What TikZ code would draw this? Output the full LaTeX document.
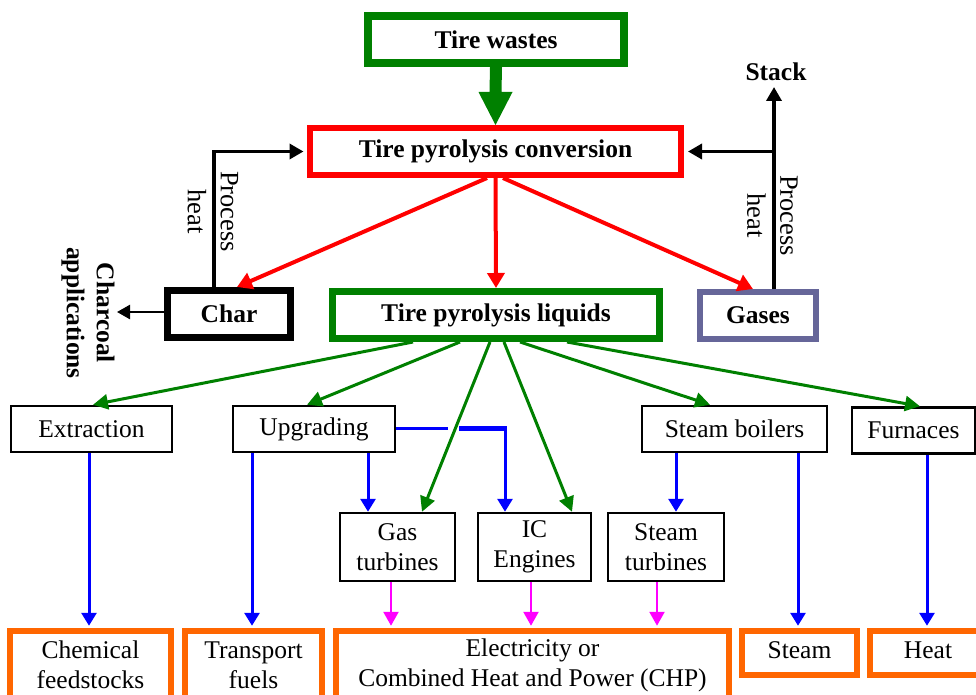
\documentclass[tikz,border=0pt]{standalone}
\usepackage{fontspec}
\setmainfont{Liberation Serif}
\usetikzlibrary{arrows.meta,calc}
\definecolor{tgreen}{RGB}{0,128,0}
\definecolor{tred}{RGB}{255,0,0}
\definecolor{tblue}{RGB}{0,0,255}
\definecolor{tmag}{RGB}{255,0,255}
\definecolor{torange}{RGB}{255,102,0}
\definecolor{tslate}{RGB}{102,102,153}
\newcommand\myfs{\fontsize{25.5}{30}\selectfont}
\newcommand\mylblfs{\fontsize{26.5}{33}\selectfont}
\begin{document}
\begin{tikzpicture}[x=1pt,y=-1pt,
  tbox/.style={draw, inner sep=0pt, minimum height=47pt, font=\myfs\bfseries, align=center},
  sbox/.style={draw=black, line width=2.5pt, inner sep=0pt, minimum height=46pt, font=\myfs, align=center},
  obox/.style={draw=torange, line width=5.5pt, inner sep=0pt, font=\myfs, align=center},
  lbl/.style={font=\mylblfs, align=center},
  rarr/.style={draw=tred, line width=4pt, -{Triangle[length=15pt,width=17pt]}},
  garr/.style={draw=tgreen, line width=3pt, -{Triangle[length=15pt,width=15pt]}},
  barr/.style={draw=tblue, line width=3pt, -{Triangle[length=13pt,width=15pt]}},
  marr/.style={draw=tmag, line width=2.5pt, -{Triangle[length=14pt,width=15pt]}},
  karr/.style={draw=black, line width=3.5pt, -{Triangle[length=14pt,width=15pt]}},
  kthin/.style={draw=black, line width=2.5pt, -{Triangle[length=13pt,width=14pt]}}
]
\useasboundingbox (0,0) rectangle (976,695);

% main boxes
\node[tbox, draw=tgreen, line width=8pt, minimum width=256pt] (waste) at (496,39.5) {Tire wastes};
\node[tbox, draw=tred, line width=6pt, minimum width=371pt] (conv) at (495.5,151.5) {Tire pyrolysis conversion};
\node[tbox, draw=black, line width=7pt, minimum width=123pt] (char) at (229,314) {Char};
\node[tbox, draw=tgreen, line width=7pt, minimum width=327pt] (liq) at (496,315) {Tire pyrolysis liquids};
\node[tbox, draw=tslate, line width=6pt, minimum width=116pt] (gas) at (758,315.5) {Gases};

% second level boxes
\node[sbox, minimum width=161pt] (extr) at (91.5,429) {Extraction};
\node[sbox, minimum width=162pt] (upg) at (314,429) {Upgrading};
\node[sbox, minimum width=185pt] (sb) at (734.5,429) {Steam boilers};
\node[sbox, minimum width=123pt] (furn) at (913.5,430.5) {Furnaces};
\node[sbox, minimum width=115pt, minimum height=68pt] (gt) at (397.5,547) {Gas\\turbines};
\node[sbox, minimum width=113pt, minimum height=68pt] (ic) at (534.5,547) {IC\\Engines};
\node[sbox, minimum width=116pt, minimum height=68pt] (st) at (666,547) {Steam\\turbines};

% products
\node[obox, minimum width=161pt, minimum height=68pt] (chem) at (90.5,665) {Chemical\\feedstocks};
\node[obox, minimum width=137pt, minimum height=68pt] (trans) at (253.5,665) {Transport\\fuels};
\node[obox, minimum width=393pt, minimum height=68pt] (elec) at (532.5,665) {Electricity or\\Combined Heat and Power (CHP)};
\node[obox, minimum width=115pt, minimum height=44pt, text height=17pt, text depth=6pt] (steam) at (799.5,653) {Steam};
\node[obox, minimum width=116pt, minimum height=44pt, text height=17pt, text depth=6pt] (heat) at (928,653) {Heat};

% labels
\node[lbl, rotate=-90] (phl) at (213,211.5) {Process\\heat};
\node[lbl, rotate=-90] (phr) at (772.5,215.5) {Process\\heat};
\node[font=\myfs\bfseries, rotate=-90, align=center] (chapp) at (88,313) {Charcoal\\applications};
\node[font=\myfs\bfseries] (stack) at (776,72) {Stack};

% big green arrow
\fill[tgreen] ($(waste.south)+(-6,0)$) -- ($(conv.north)+(-6,-33)$) -- ($(conv.north)+(-17,-33)$)
  -- (conv.north) -- ($(conv.north)+(17,-33)$) -- ($(conv.north)+(6,-33)$) -- ($(waste.south)+(6,0)$) -- cycle;

% red arrows
\draw[rarr] ([xshift=-8.5pt]conv.south) -- ([xshift=8pt]char.north);
\draw[rarr] (conv.south) -- (liq.north);
\draw[rarr] ([xshift=7.5pt]conv.south) -- ([xshift=-5pt]gas.north);

% process heat loops
\draw[karr, shorten >=3.5pt] ([xshift=-15pt]char.north) |- (conv.west);
\coordinate (stip) at (774,87);
\coordinate (jr) at (stip |- conv.east);
\draw[karr] ([xshift=16pt]gas.north) -- (stip);
\draw[karr, shorten >=4pt] (jr) -- (conv.east);

% charcoal
\coordinate (chtip) at (117,312);
\draw[kthin] (char.west |- chtip) -- (chtip);

% green arrows from liquids
\draw[garr] ([xshift=-83pt]liq.south) -- ([xshift=1.5pt]extr.north);
\draw[garr] ([xshift=-36pt]liq.south) -- ([xshift=-7pt]upg.north);
\draw[garr] ([xshift=-6pt]liq.south) -- ([xshift=24.5pt]gt.north);
\draw[garr] ([xshift=8pt]liq.south) -- ([xshift=37.5pt]ic.north);
\draw[garr] ([xshift=24pt]liq.south) -- ([xshift=-24.5pt]sb.north);
\draw[garr] ([xshift=71pt]liq.south) -- ([xshift=6.5pt]furn.north);

% blue arrows
\draw[barr, shorten >=2.5pt] ([xshift=-1.5pt]chem.north |- extr.south) -- ([xshift=-1.5pt]chem.north);
\draw[barr, shorten >=2.5pt] ([xshift=-1.5pt]trans.north |- upg.south) -- ([xshift=-1.5pt]trans.north);
\draw[barr] ([xshift=-29.5pt]gt.north |- upg.south) -- ([xshift=-29.5pt]gt.north);
\coordinate (gapL) at (448,428.5);
\coordinate (gapR) at (459,428.5);
\coordinate (icc) at ([xshift=-29.5pt]ic.north |- gapL);
\draw[tblue, line width=3pt] (upg.east |- gapL) -- (gapL);
\draw[tblue, line width=4.5pt] (gapR) -- ([xshift=1.5pt]icc);
\draw[barr] (icc) -- ([xshift=-29.5pt]ic.north);
\draw[barr] ([xshift=10pt]st.north |- sb.south) -- ([xshift=10pt]st.north);
\draw[barr, shorten >=2.5pt] ([xshift=-1.5pt]steam.north |- sb.south) -- ([xshift=-1.5pt]steam.north);
\draw[barr, shorten >=2.5pt] ([xshift=13.5pt]furn.south) -- ([xshift=13.5pt]furn.south |- heat.north);

% magenta arrows
\draw[marr, shorten >=2.5pt] ([xshift=-6.5pt]gt.south) -- ([xshift=-6.5pt]gt.south |- elec.north);
\draw[marr, shorten >=2.5pt] ([xshift=-3.5pt]ic.south) -- ([xshift=-3.5pt]ic.south |- elec.north);
\draw[marr, shorten >=2.5pt] ([xshift=-9pt]st.south) -- ([xshift=-9pt]st.south |- elec.north);
\end{tikzpicture}
\end{document}
